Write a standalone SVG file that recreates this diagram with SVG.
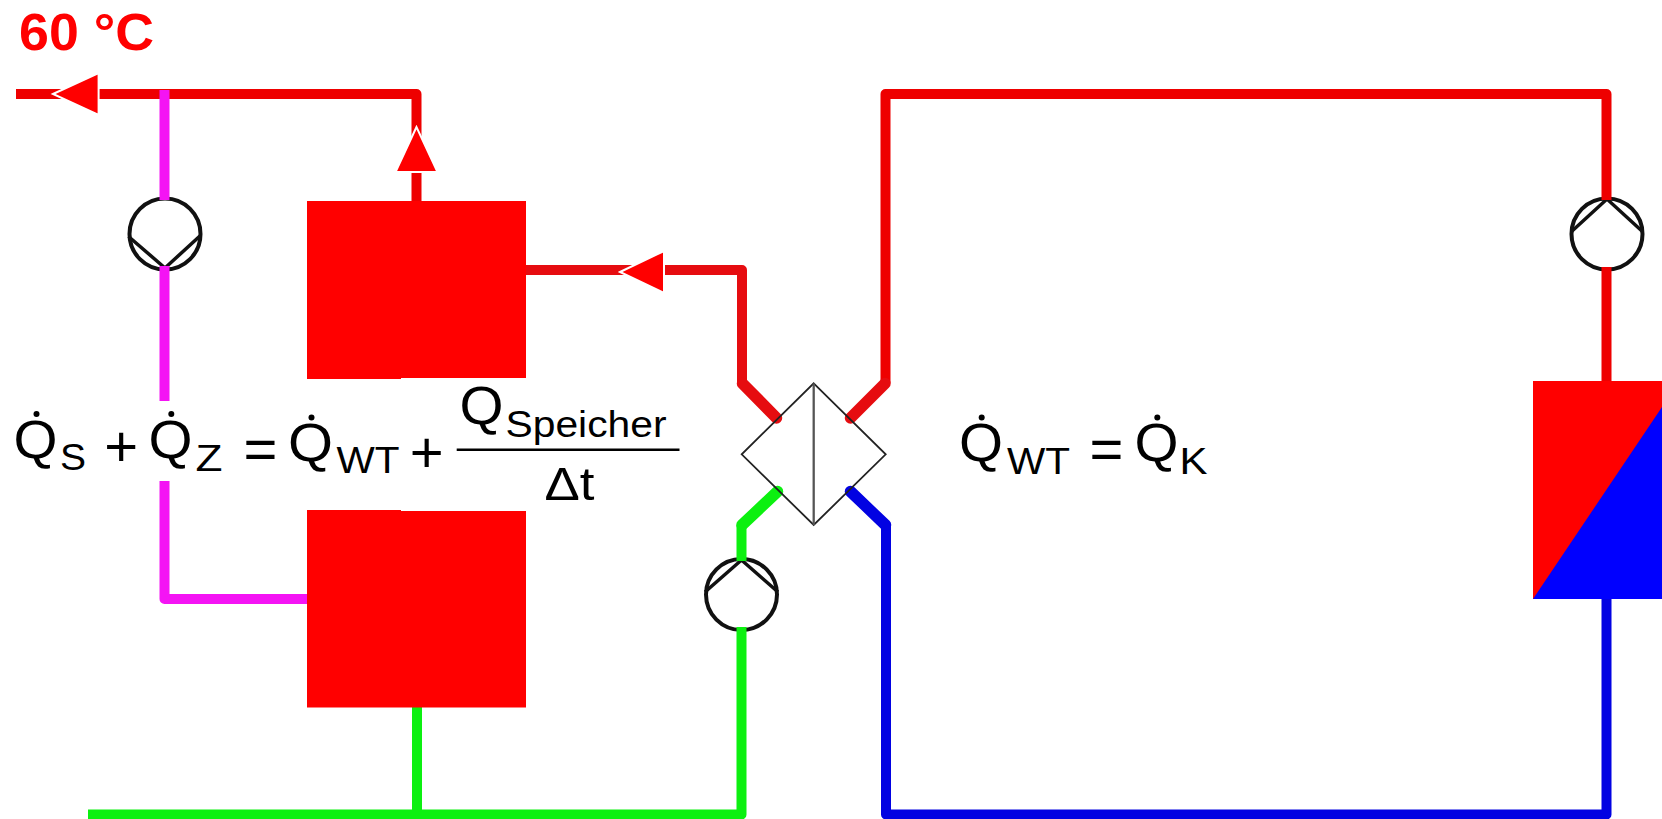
<svg xmlns="http://www.w3.org/2000/svg" width="1662" height="819" viewBox="0 0 1662 819">
<style>
.p{fill:none;stroke-width:10;stroke-linejoin:round}
.d{fill:none;stroke-width:11.500;stroke-linecap:round}
.r{stroke:#ee0000}.r2{stroke:#e60c10}.m{stroke:#f414f4}.g{stroke:#0cf010}.b{stroke:#0202e2}
.box{fill:#ff0000}
.pump{fill:none;stroke:#111;stroke-width:4}
.v{fill:none;stroke:#111;stroke-width:3.500}
.arr{fill:#ff0000;stroke:#fff;stroke-width:2}
text{font-family:"Liberation Sans",Arial,sans-serif;fill:#000}
.q{font-size:53px}.s{font-size:36px}.o{font-size:58px}
.dot{fill:#000}
</style>
<rect width="1662" height="819" fill="#fff"/>
<g id="pump-1"><circle class="pump" cx="165" cy="234" r="35.500"/><path class="v" d="M128.500 236.500L165 268L201 235"/></g>
<g id="pump-2"><circle class="pump" cx="741.500" cy="594.500" r="35.500"/><path class="v" d="M705 592L741.500 560L778 592"/></g>
<g id="pump-3"><circle class="pump" cx="1607" cy="234" r="35.500"/><path class="v" d="M1571 232L1607 199L1643 232"/></g>
<g id="connectors">
<path class="p r" d="M16 94H416.500V201"/>
<path class="p m" d="M164.500 90V200M164.500 266V401M164.500 481V599H307"/>
<path class="p r2" d="M526 270H742V383"/>
<path class="d r2" d="M742.500 383.500L776.500 418"/>
<path class="p r" d="M885.500 383V94H1606.500V200M1606.500 267V381"/>
<path class="d r2" d="M885 383.500L850.500 418"/>
<path class="p g" d="M741.500 525V561M741.500 627V814.500H88M417 707V814"/>
<path class="d g" d="M742 525L777.500 491.500"/>
<path class="p b" d="M886 525V814.500H1606.500V599"/>
<path class="d b" d="M885.500 525L850.500 491.500"/>
</g>
<g id="arrows">
<polygon class="arr" points="53,94 98.600,73 98.600,115"/>
<polygon class="arr" points="416.500,127 395.500,172 437.500,172"/>
<polygon class="arr" points="620,272 664,251 664,293"/>
</g>
<g id="storage-top"><polygon class="box" points="307,201 526,201 526,378 401,378 401,379 307,379"/></g>
<g id="storage-bottom"><polygon class="box" points="307,510 401,510 401,511 526,511 526,707.500 307,707.500"/></g>
<g id="heat-exchanger"><polygon points="813.700,383.300 885.700,454.300 813.700,525 741.700,454.300" fill="none" stroke="#222" stroke-width="1.800"/><line x1="813.700" y1="383.300" x2="813.700" y2="525" stroke="#555" stroke-width="2.300"/></g>
<g id="heat-pump"><rect x="1533" y="381" width="129" height="218" fill="#ff0000"/><polygon points="1533,599 1662,407 1662,599" fill="#0000ff"/></g>
<g id="label-temp"><text x="19" y="49.500" font-size="52" font-weight="bold" style="fill:#ff0000" textLength="135" lengthAdjust="spacingAndGlyphs">60 °C</text></g>
<g id="formula-left">
<text class="q" x="13.500" y="458" textLength="44" lengthAdjust="spacingAndGlyphs">Q</text><circle class="dot" cx="36.500" cy="414" r="3"/>
<text class="s" x="60" y="470" textLength="26" lengthAdjust="spacingAndGlyphs">S</text>
<text class="o" x="121.300" y="465.500" text-anchor="middle">+</text>
<text class="q" x="148.500" y="458" textLength="44" lengthAdjust="spacingAndGlyphs">Q</text><circle class="dot" cx="171.300" cy="414" r="3"/>
<text class="s" x="195.500" y="470.500" textLength="27" lengthAdjust="spacingAndGlyphs">Z</text>
<text class="o" x="260.500" y="468.500" text-anchor="middle">=</text>
<text class="q" x="288" y="461" textLength="45" lengthAdjust="spacingAndGlyphs">Q</text><circle class="dot" cx="311.500" cy="417.500" r="3"/>
<text class="s" x="336.500" y="473" textLength="63" lengthAdjust="spacingAndGlyphs">WT</text>
<text class="o" x="426.800" y="471.500" text-anchor="middle">+</text>
<text class="q" x="459.500" y="424" textLength="44" lengthAdjust="spacingAndGlyphs">Q</text>
<text class="s" x="505.500" y="436.500" textLength="161" lengthAdjust="spacingAndGlyphs">Speicher</text>
<line x1="456.700" y1="449.700" x2="679.500" y2="449.700" stroke="#000" stroke-width="2.400"/>
<text x="544.500" y="500" style="font-size:47px" textLength="50" lengthAdjust="spacingAndGlyphs">Δt</text>
</g>
<g id="formula-right">
<text class="q" x="959" y="461" textLength="44" lengthAdjust="spacingAndGlyphs">Q</text><circle class="dot" cx="981.700" cy="417.500" r="3"/>
<text class="s" x="1007" y="474" textLength="63" lengthAdjust="spacingAndGlyphs">WT</text>
<text class="o" x="1106.500" y="469" text-anchor="middle">=</text>
<text class="q" x="1134.500" y="461" textLength="44" lengthAdjust="spacingAndGlyphs">Q</text><circle class="dot" cx="1157.300" cy="417.500" r="3"/>
<text class="s" x="1179.500" y="474" textLength="28" lengthAdjust="spacingAndGlyphs">K</text>
</g>
</svg>
